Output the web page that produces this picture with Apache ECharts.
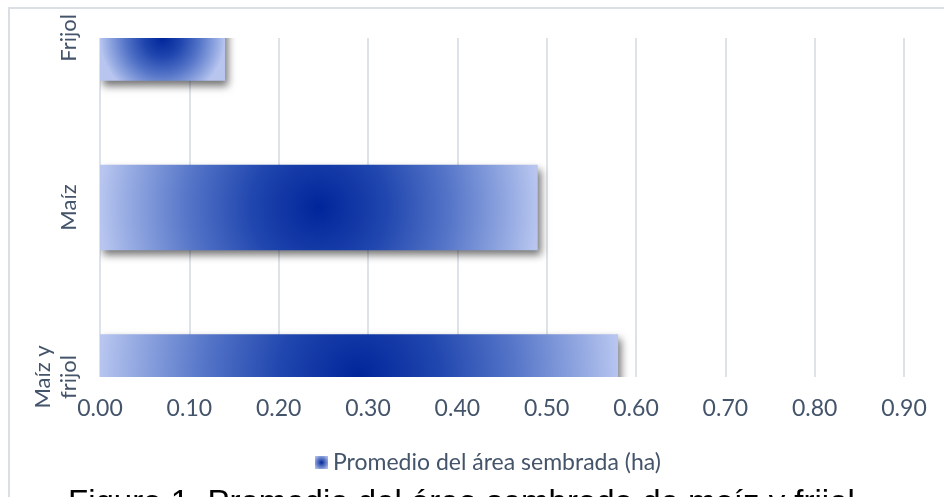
<!DOCTYPE html>
<html>
<head>
<meta charset="utf-8">
<script src="https://cdn.jsdelivr.net/npm/echarts@6/dist/echarts.min.js"></script>
<style>
  html, body { margin: 0; padding: 0; background: #ffffff; }
  #chart { width: 944px; height: 497px; }
</style>
</head>
<body>
<div id="chart"></div>
<script>
// Categories listed bottom to top, as the category axis draws them
const categories = ['Maíz y\nfrijol', 'Maíz', 'Frijol'];
const seriesName = 'Promedio del área sembrada (ha)';
const areaValues = [0.58, 0.49, 0.14];

// Value axis range and tick step
const axisMin = 0;
const axisMax = 0.9;
const axisStep = 0.1;

const captionText = 'Figura 1. Promedio del área sembrada de maíz y frijol';

const textColor = '#44546A';
const gridColor = '#DEE3EA';
const labelFont = 'Lato';
const barShare = 0.505;   // bar thickness as a share of the category step

// Deep blue centre fading to pale blue at the bar ends
const fillStops = [
  { offset: 0.00, color: '#00259A' },
  { offset: 0.30, color: '#1F45AE' },
  { offset: 0.60, color: '#5575C8' },
  { offset: 0.85, color: '#90A6E0' },
  { offset: 1.00, color: '#B7C5EF' }
];

const iconFill = new echarts.graphic.RadialGradient(0.5, 0.5, 0.6, [
  { offset: 0, color: '#02299A' },
  { offset: 1, color: '#A9B9EA' }
]);

const barData = areaValues.map((v, i) => [v, i]);

function renderBar(params, api) {
  const cat = api.value(1);
  const val = api.value(0);
  const start = api.coord([axisMin, cat]);
  const end = api.coord([val, cat]);
  const h = api.size([0, 1])[1] * barShare;
  const w = end[0] - start[0];
  const r = 0.5 * w / Math.min(w, h);
  return {
    type: 'rect',
    shape: { x: start[0], y: start[1] - h / 2, width: w, height: h },
    style: {
      fill: new echarts.graphic.RadialGradient(0.5, 0.5, r, fillStops),
      shadowColor: 'rgba(0,0,0,0.55)',
      shadowBlur: 8,
      shadowOffsetX: 3,
      shadowOffsetY: 5
    }
  };
}

const chart = echarts.init(document.getElementById('chart'), null, { renderer: 'canvas' });

chart.setOption({
  animation: false,
  backgroundColor: '#ffffff',
  grid: { left: 100, right: 40, top: 38, bottom: 120, containLabel: false },
  xAxis: {
    type: 'value',
    min: axisMin,
    max: axisMax,
    interval: axisStep,
    axisLine: { show: false },
    axisTick: { show: false },
    splitLine: { show: true, lineStyle: { color: gridColor, width: 2 } },
    axisLabel: {
      margin: 20,
      color: textColor,
      fontSize: 23,
      fontFamily: labelFont,
      formatter: v => v.toFixed(2)
    }
  },
  yAxis: {
    type: 'category',
    data: categories,
    boundaryGap: false,
    axisLine: { show: false },
    axisTick: { show: false },
    splitLine: { show: false },
    axisLabel: {
      rotate: 90,
      margin: 18,
      color: textColor,
      fontSize: 22,
      lineHeight: 26,
      fontFamily: labelFont
    }
  },
  legend: {
    left: 310,
    top: 446,
    itemWidth: 13,
    itemHeight: 13,
    textStyle: { color: textColor, fontSize: 23, fontFamily: labelFont },
    data: [{ name: seriesName, icon: 'rect', itemStyle: { color: iconFill } }]
  },
  series: [{
    type: 'custom',
    name: seriesName,
    coordinateSystem: 'cartesian2d',
    clip: true,
    encode: { x: 0, y: 1 },
    data: barData,
    renderItem: renderBar
  }],
  graphic: [
    {
      type: 'rect',
      silent: true,
      z: -10,
      shape: { x: 9, y: 8, width: 1200, height: 800 },
      style: { fill: 'none', stroke: '#DADFE6', lineWidth: 2 }
    },
    {
      type: 'text',
      silent: true,
      left: 68,
      top: 487,
      style: {
        text: captionText,
        fill: '#000000',
        font: '33px "Liberation Sans", Arial, sans-serif'
      }
    }
  ]
});
</script>
</body>
</html>
